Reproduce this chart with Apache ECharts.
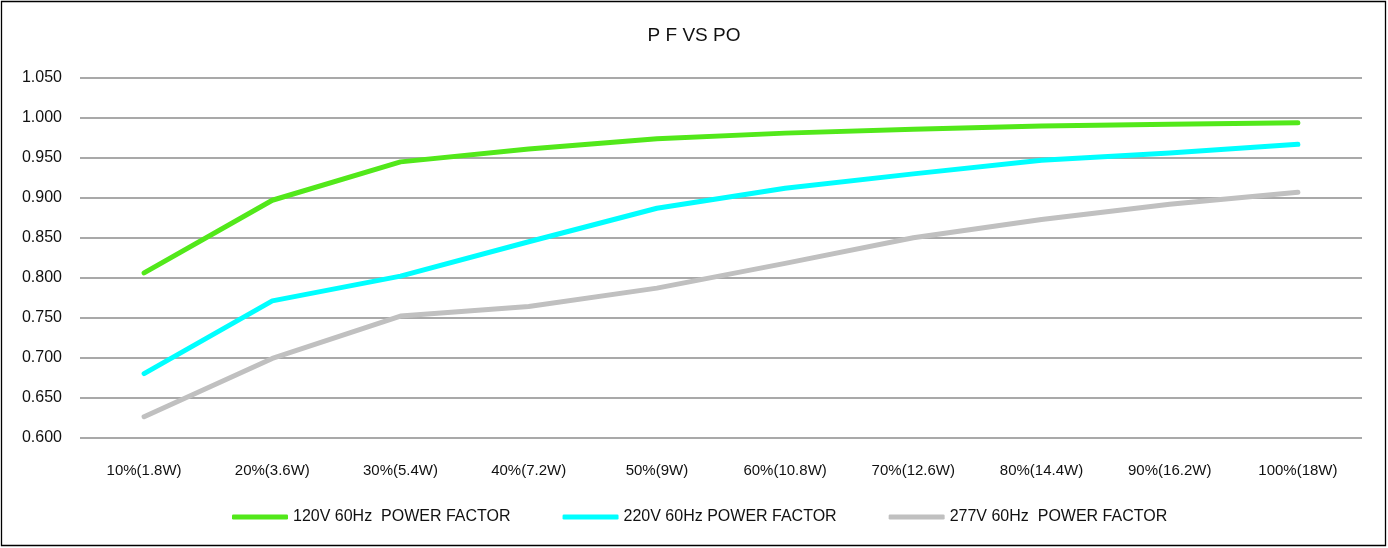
<!DOCTYPE html>
<html><head><meta charset="utf-8">
<script src="https://cdn.jsdelivr.net/npm/echarts@6/dist/echarts.min.js"></script>
<style>html,body{margin:0;padding:0;background:#fff}#c{width:1388px;height:548px}</style>
</head><body><div id="c"></div>
<script>
const categories = ['10%(1.8W)','20%(3.6W)','30%(5.4W)','40%(7.2W)','50%(9W)','60%(10.8W)','70%(12.6W)','80%(14.4W)','90%(16.2W)','100%(18W)'];
const pf120 = [0.806,0.897,0.945,0.961,0.974,0.981,0.986,0.990,0.992,0.994];
const pf220 = [0.680,0.771,0.802,0.845,0.887,0.912,0.930,0.947,0.956,0.967];
const pf277 = [0.626,0.699,0.752,0.764,0.787,0.818,0.850,0.873,0.892,0.907];
const seriesNames = ['120V 60Hz  POWER FACTOR','220V 60Hz POWER FACTOR','277V 60Hz  POWER FACTOR'];
const colors = ['#52E81A','#00FFFF','#C0C0C0'];
const font = 'Liberation Sans, Arial, sans-serif';
const chart = echarts.init(document.getElementById('c'));
const mk = (name, data, color) => ({
  name, type:'line', data, symbol:'none', showSymbol:false, smooth:false, color,
  itemStyle:{color},
  lineStyle:{width:5, color, cap:'round', join:'round'}
});
chart.setOption({
  animation:false,
  backgroundColor:'#fff',
  title:{text:'P F VS PO', left:'center', top:21, textStyle:{fontFamily:font, fontSize:19, fontWeight:'normal', color:'#111'}},
  grid:{left:80, right:26, top:78, bottom:110.5},
  legend:{top:504, left:227, icon:'roundRect', itemWidth:56, itemHeight:5, itemGap:52,
    textStyle:{fontFamily:font, fontSize:16, color:'#111'},
    data:seriesNames},
  xAxis:{type:'category', data:categories, boundaryGap:true,
    axisLine:{show:false}, axisTick:{show:false},
    axisLabel:{fontFamily:font, fontSize:15, color:'#111', margin:26}},
  yAxis:{type:'value', min:0.6, max:1.05, interval:0.05,
    axisLine:{show:false}, axisTick:{show:false},
    axisLabel:{fontFamily:font, fontSize:16, color:'#111', margin:18, formatter:v=>v.toFixed(3)},
    splitLine:{lineStyle:{color:'#8c8c8c', width:1.5}}},
  graphic:[{type:'rect', shape:{x:1.5,y:1.5,width:1384,height:544}, style:{fill:null, stroke:'#000', lineWidth:1.3}, silent:true}],
  series:[mk(seriesNames[0],pf120,colors[0]), mk(seriesNames[1],pf220,colors[1]), mk(seriesNames[2],pf277,colors[2])]
});
</script></body></html>
